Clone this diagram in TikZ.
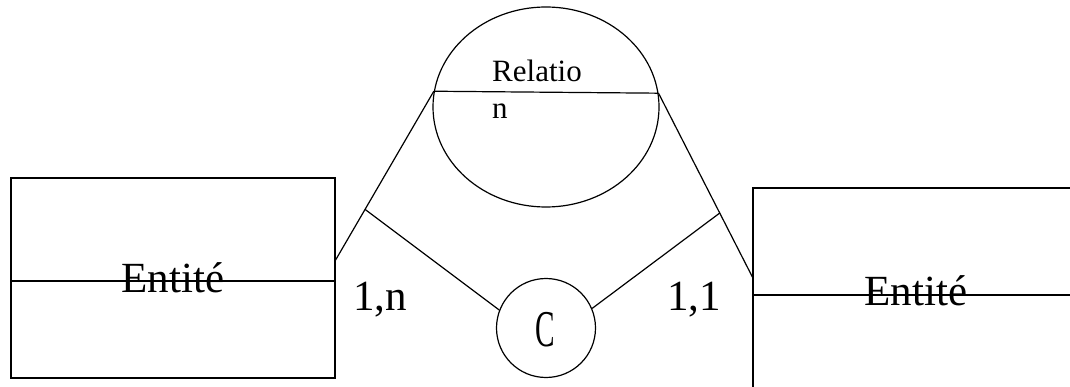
\documentclass[tikz,border=0pt]{standalone}
\usepackage{fontspec}
\setmainfont{Liberation Serif}
\newfontfamily\tms{Liberation Serif}
\usetikzlibrary{shapes.geometric,calc}
\begin{document}
\begin{tikzpicture}[x=1pt,y=-1pt,
  lin/.style={line width=1.2pt,black},
  entbox/.style={draw,lin,rectangle,inner sep=0pt,font=\tms\fontsize{43}{50}\selectfont},
  bigtxt/.style={inner sep=0pt,font=\tms\fontsize{43}{50}\selectfont},
  reltxt/.style={inner sep=0pt,anchor=base west,font=\tms\fontsize{31}{37}\selectfont}]
\useasboundingbox (0,0) rectangle (1070,387);
\clip (0,0) rectangle (1070,387);
% entities
\node[entbox,minimum width=324pt,minimum height=200pt] (L) at (173,278) {Entité};
\draw[lin] ([yshift=-3pt]L.west) -- ([yshift=-3pt]L.east);
\node[entbox,minimum width=326pt,minimum height=205pt] (R) at (916,290.5) {Entité};
\draw[lin] ([yshift=-4.5pt]R.west) -- ([yshift=-4.5pt]R.east);
% relation
\node[draw,lin,ellipse,minimum width=226pt,minimum height=200pt,inner sep=0pt] (rel) at (546,107) {};
\draw[lin] (rel.172.9) -- (rel.7.1);
\node[reltxt] (relA) at (492,82) {Relatio};
\node[reltxt] (relB) at (492,119) {n};
% small circle
\node[draw,lin,circle,minimum size=99pt,inner sep=0pt] (c) at (546,328) {};
\node[inner sep=0pt,font=\tms\fontsize{43}{50}\selectfont] (ctxt) at (545,330) {\scalebox{0.68}[1.2]{C}};
% connectors
\coordinate (pL) at ([yshift=18pt]L.east);
\coordinate (pR) at ([yshift=13.5pt]R.west);
\coordinate (jL) at ($(pL)!0.3!(rel.172.9)$);
\coordinate (jR) at ($(rel.7.1)!0.652!(pR)$);
\draw[lin] (pL) -- (rel.172.9);
\draw[lin] (rel.7.1) -- (pR);
\draw[lin] (jL) -- (c.159);
\draw[lin] (jR) -- (c.23);
% cardinalities
\node[bigtxt,anchor=base west] (cardL) at (353,310) {1,n};
\node[bigtxt,anchor=base west] (cardR) at (667,310) {1,1};
\end{tikzpicture}
\end{document}
